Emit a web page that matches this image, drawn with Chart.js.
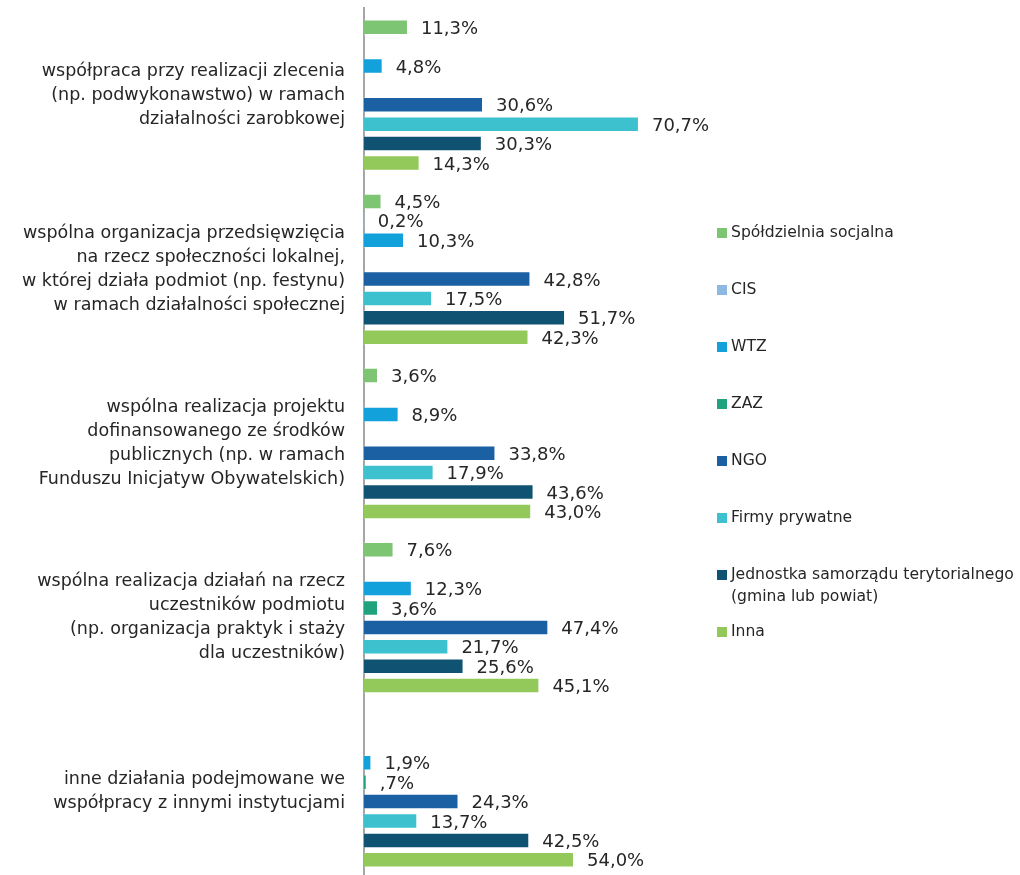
<!DOCTYPE html>
<html>
<head>
<meta charset="utf-8">
<script src="https://cdn.jsdelivr.net/npm/chart.js@4.4.1/dist/chart.umd.min.js"></script>
<style>
html,body{margin:0;padding:0;background:#fff;overflow:hidden;}
#wrap{position:relative;width:1020px;height:880px;}
</style>
</head>
<body>
<div id="wrap"><canvas id="c" width="1020" height="880"></canvas></div>
<script>
const categories = [
  ["współpraca przy realizacji zlecenia", "(np. podwykonawstwo) w ramach", "działalności zarobkowej"],
  ["wspólna organizacja przedsięwzięcia", "na rzecz społeczności lokalnej,", "w której działa podmiot (np. festynu)", "w ramach działalności społecznej"],
  ["wspólna realizacja projektu", "dofinansowanego ze środków", "publicznych (np. w ramach", "Funduszu Inicjatyw Obywatelskich)"],
  ["wspólna realizacja działań na rzecz", "uczestników podmiotu", "(np. organizacja praktyk i staży", "dla uczestników)"],
  ["inne działania podejmowane we", "współpracy z innymi instytucjami"]
];

const seriesNames = ["Spółdzielnia socjalna", "CIS", "WTZ", "ZAZ", "NGO", "Firmy prywatne", ["Jednostka samorządu terytorialnego", "(gmina lub powiat)"], "Inna"];
const seriesColors = ["#7dc473", "#8bb9e2", "#13a1dc", "#1fa37f", "#1a60a2", "#3ec1cf", "#105271", "#93c95a"];

const spoldzielnia = [11.3, 4.5, 3.6, 7.6, null];
const cis          = [null, 0.2, null, null, null];
const wtz          = [4.8, 10.3, 8.9, 12.3, 1.9];
const zaz          = [null, null, null, 3.6, 0.7];
const ngo          = [30.6, 42.8, 33.8, 47.4, 24.3];
const firmy        = [70.7, 17.5, 17.9, 21.7, 13.7];
const jst          = [30.3, 51.7, 43.6, 25.6, 42.5];
const inna         = [14.3, 42.3, 43.0, 45.1, 54.0];

// label text as printed in the source where it deviates from plain formatting
const labelOverrides = { "3-4": ",7%" };

const seriesValues = [spoldzielnia, cis, wtz, zaz, ngo, firmy, jst, inna];

const FONT = "'DejaVu Sans', Verdana, sans-serif";

function fmt(v){ return v.toFixed(1).replace('.', ',') + '%'; }

const dataLabels = {
  id: 'dataLabels',
  afterDatasetsDraw(chart){
    const ctx = chart.ctx;
    ctx.save();
    ctx.font = "18px " + FONT;
    ctx.fillStyle = "#262626";
    ctx.textAlign = "left";
    ctx.textBaseline = "middle";
    chart.data.datasets.forEach((ds, di) => {
      const meta = chart.getDatasetMeta(di);
      meta.data.forEach((el, i) => {
        const v = ds.data[i];
        if (v === null || v === undefined) return;
        const key = di + "-" + i;
        const txt = labelOverrides[key] || fmt(v);
        ctx.fillText(txt, el.x + 13, el.y + 2);
      });
    });
    ctx.restore();
  }
};

const sideLegend = {
  id: 'sideLegend',
  afterDraw(chart){
    const ctx = chart.ctx;
    ctx.save();
    ctx.font = "15.6px " + FONT;
    ctx.fillStyle = "#262626";
    ctx.textAlign = "left";
    ctx.textBaseline = "middle";
    const x0 = 717, top = 233, step = 57;
    let y = top;
    chart.data.datasets.forEach((ds, di) => {
      ctx.fillStyle = ds.backgroundColor;
      ctx.fillRect(x0, y - 5, 10, 10);
      ctx.fillStyle = "#262626";
      const lines = Array.isArray(ds.label) ? ds.label : [ds.label];
      lines.forEach((ln, k) => ctx.fillText(ln, x0 + 14, y + k * 22));
      y += step;
    });
    ctx.restore();
  }
};

new Chart(document.getElementById('c'), {
  type: 'bar',
  data: {
    labels: categories,
    datasets: seriesValues.map((vals, i) => ({
      label: seriesNames[i],
      data: vals,
      backgroundColor: seriesColors[i],
      borderColor: 'rgba(255,255,255,0.35)',
      borderWidth: 1,
      categoryPercentage: 0.891,
      barPercentage: 0.8
    }))
  },
  options: {
    indexAxis: 'y',
    responsive: false,
    animation: false,
    devicePixelRatio: 1,
    layout: { padding: { top: 8, bottom: 1, left: 0, right: 320 } },
    plugins: { legend: { display: false }, tooltip: { enabled: false }, title: { display: false } },
    scales: {
      x: { display: false, min: 0, max: 86.4 },
      y: {
        afterFit(scale){ scale.width = 364; scale.paddingTop = 0; scale.paddingBottom = 0; },
        grid: { display: false, drawTicks: false },
        border: { display: true, color: '#a6a6a6', width: 2 },
        ticks: {
          padding: 19,
          color: '#262626',
          font: { family: FONT, size: 17.5, lineHeight: 1.37 }
        }
      }
    }
  },
  plugins: [dataLabels, sideLegend]
});
</script>
</body>
</html>
